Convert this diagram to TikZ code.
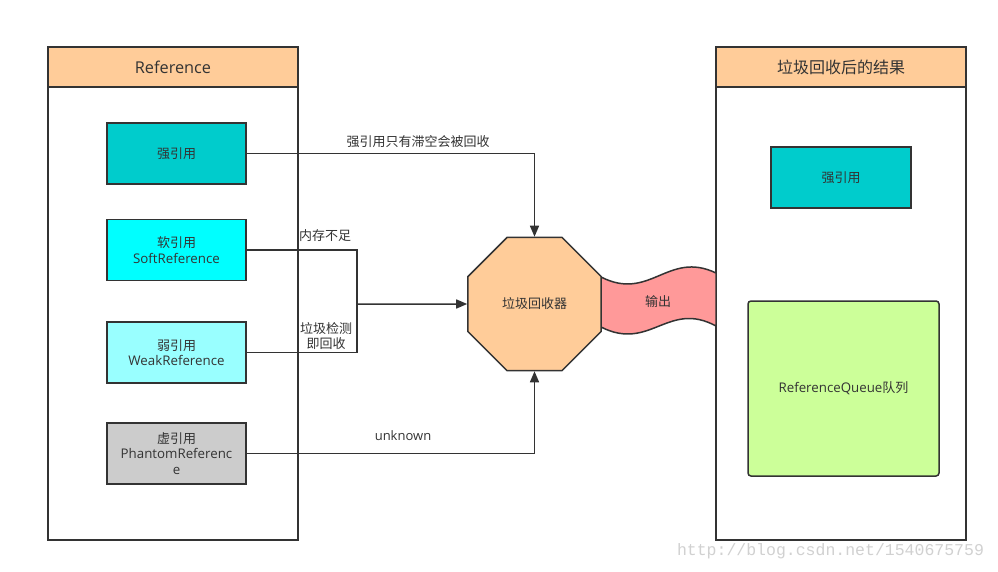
\documentclass[tikz,border=0pt]{standalone}
\usepackage{fontspec}
\setmainfont{Open Sans}
\newfontfamily\cjk{Noto Sans CJK SC}
\newfontfamily\wmfont{Liberation Mono}
\usetikzlibrary{arrows.meta,shapes.geometric}
\definecolor{ln}{HTML}{333333}
\definecolor{hdr}{HTML}{FFCC99}
\definecolor{strong}{HTML}{00CCCC}
\definecolor{soft}{HTML}{00FFFF}
\definecolor{weak}{HTML}{99FFFF}
\definecolor{phantom}{HTML}{CCCCCC}
\definecolor{queue}{HTML}{CCFF99}
\definecolor{wavec}{HTML}{FF9999}
\begin{document}
\begin{tikzpicture}[x=1pt,y=-1pt,
  refbox/.style={draw=ln, line width=1.5pt, minimum width=139pt, minimum height=61pt, inner sep=0pt, font=\fontsize{13.3}{15.5}\selectfont, align=center, text=ln},
  container/.style={draw=ln, line width=1.5pt, minimum width=250pt, minimum height=493pt, inner sep=0pt},
  header/.style={draw=ln, line width=1.5pt, fill=hdr, minimum width=250pt, minimum height=40pt, inner sep=0pt, font=\fontsize{16.3}{18}\selectfont, text=ln},
  conn/.style={draw=ln, line width=1.5pt},
  arr/.style={conn, -{Triangle[length=11pt,width=9pt]}},
  lbl/.style={font=\fontsize{13}{15.5}\selectfont, text=ln, inner sep=0pt, align=center},
  cjklbl/.style={lbl, font=\cjk\fontsize{13}{15.5}\selectfont}]
\fill[white] (0,0) rectangle (998,572);
\useasboundingbox (0,0) rectangle (998,572);

% containers
\node[container] (lc) at (173,293.5) {};
\node[header] (lh) at (173,67) {Reference};
\node[container] (rc) at (841,293.5) {};
\node[header] (rh) at (841,67) {\cjk\fontsize{16}{18}\selectfont 垃圾回收后的结果};

% left boxes
\node[refbox, fill=strong] (s1) at (176.5,153.5) {\cjk\fontsize{13}{15.5}\selectfont 强引用};
\node[refbox, fill=soft] (s2) at (176.5,250) {{\cjk\fontsize{13}{15.5}\selectfont 软引用}\\SoftReference};
\node[refbox, fill=weak] (s3) at (176.5,352.5) {{\cjk\fontsize{13}{15.5}\selectfont 弱引用}\\WeakReference};
\node[refbox, fill=phantom] (s4) at (176.5,453.5) {{\cjk\fontsize{13}{15.5}\selectfont 虚引用}\\PhantomReferenc\\e};

% right boxes
\node[refbox, minimum width=140pt, fill=strong] (r1) at (841,177.5) {\cjk\fontsize{13}{15.5}\selectfont 强引用};
\node[draw=ln, line width=1.5pt, fill=queue, rounded corners=3pt, minimum width=191pt, minimum height=175pt, inner sep=0pt, font=\fontsize{13.3}{15.5}\selectfont, text=ln] (q) at (843.5,388.5) {ReferenceQueue{\cjk\fontsize{13}{15.5}\selectfont 队列}};

% output wave
\draw[ln, line width=1.5pt, fill=wavec] (601,277) .. controls (650,302) and (668,250) .. (716,273) -- (716,326) .. controls (668,300) and (650,352) .. (601,327) -- cycle;
\node[cjklbl] (out) at (658,302) {输出};

% garbage collector
\node[draw=ln, line width=1.5pt, fill=hdr, regular polygon, regular polygon sides=8, minimum size=144pt, inner sep=0pt, font=\cjk\fontsize{13}{15.5}\selectfont, text=ln] (gc) at (534.5,304) {垃圾回收器};

% connectors
\draw[arr] (s1.east) -| (gc.90);
\node[cjklbl] (l1) at (418,142) {强引用只有滞空会被回收};
\coordinate (j) at (357,304);
\draw[conn] (s2.east) -| (j);
\draw[conn] (s3.east) -| (j);
\draw[arr] (j) -- (gc.180);
\node[cjklbl, anchor=west] (l2) at (299,236) {内存不足};
\node[cjklbl] (l3) at (326,336) {垃圾检测\\即回收};
\draw[arr] (s4.east) -| (gc.270);
\node[lbl] (l4) at (403,436) {unknown};

% watermark
\node[font=\wmfont\fontsize{16.5}{18}\selectfont, text=black!18, inner sep=0pt] (wm) at (830.5,551) {http://blog.csdn.net/1540675759};
\end{tikzpicture}
\end{document}
